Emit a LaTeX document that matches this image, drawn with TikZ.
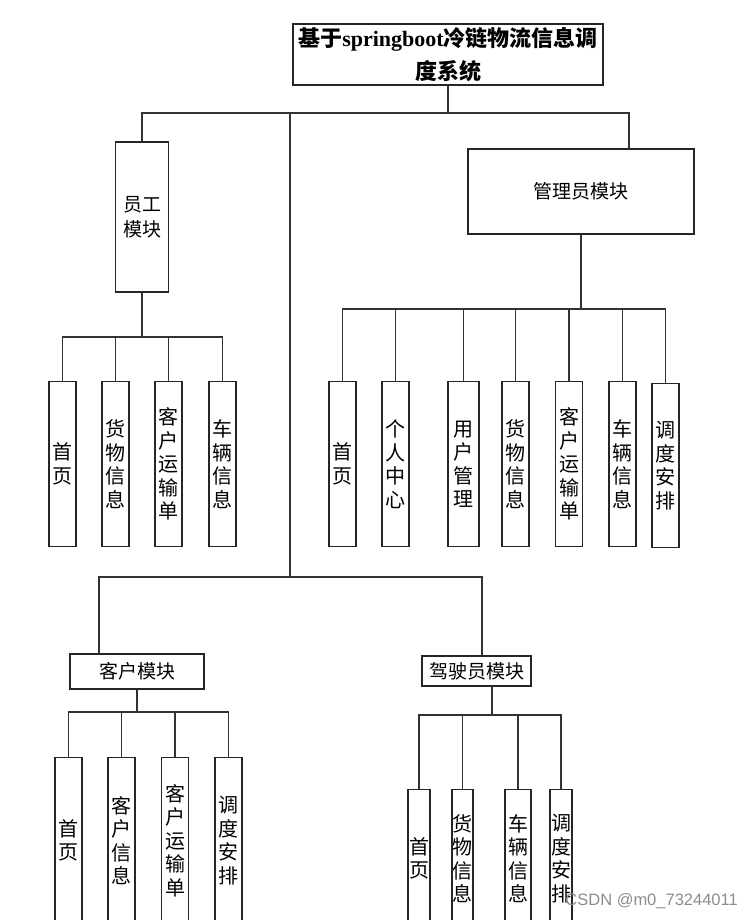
\documentclass[tikz,border=0pt]{standalone}
\usepackage{fontspec}
\setmainfont{Liberation Serif}
\setsansfont{Liberation Sans}
\newfontfamily\cjk{Noto Sans CJK SC}
\tikzset{
  box/.style={draw=black!85, line width=1.2pt, inner sep=0pt, align=center,
    font=\cjk\fontsize{19}{25}\selectfont},
  leaf/.style={box, anchor=north, minimum width=27, minimum height=165,
    font=\cjk\fontsize{20}{23.5}\selectfont},
  wire/.style={draw=black!80, line width=1.3pt},
}
\begin{document}
\begin{tikzpicture}[x=1pt,y=-1pt]
  \useasboundingbox (0,0) rectangle (753,920);
  \clip (0,0) rectangle (753,920);
  % system and modules
  \node[box, minimum width=310, minimum height=61,
    font=\fontsize{22}{33}\selectfont\bfseries] (sys) at (448,54.5)
    {{\cjk 基于}springboot{\cjk 冷链物流信息调}\\{\cjk 度系统}};
  \node[box, minimum width=53, minimum height=150] (emp) at (142,217) {员工\\模块};
  \node[box, minimum width=226, minimum height=85] (mgr) at (581,191.5) {管理员模块};
  \node[box, minimum width=134, minimum height=35] (cus) at (137,671.5) {客户模块};
  \node[box, minimum width=109, minimum height=30] (drv) at (476.5,671) {驾驶员模块};

  \coordinate (top) at (448,113);
  \coordinate (trunk) at (290,113);
  \coordinate (hub) at (290,577);
  \coordinate (ebus) at (142,337);
  \coordinate (mbus) at (581,309);
  \coordinate (cbus) at (137,712);
  \coordinate (dbus) at (492,715);

  \draw[wire] (sys.south) -- (top);
  \draw[wire] (emp.north) |- (top) -| ([xshift=48]mgr.north);
  \draw[wire] (trunk) -- (hub);
  \draw[wire] ([xshift=-38]cus.north) |- (hub) -| ([xshift=5.5]drv.north);
  \draw[wire] (emp.south) -- (ebus);
  \draw[wire] (mgr.south) -- (mbus);
  \draw[wire] (cus.south) -- (cbus);
  \draw[wire] ([xshift=15.5]drv.south) -- (dbus);

  % employee pages
  \node[leaf] (e1) at (62.5,381) {首\\页};
  \node[leaf] (e2) at (115.5,381) {货\\物\\信\\息};
  \node[leaf] (e3) at (168.5,381) {客\\户\\运\\输\\单};
  \node[leaf] (e4) at (222.5,381) {车\\辆\\信\\息};
  \draw[wire] (e1.north) |- (ebus);
  \draw[wire] (e2.north) |- (ebus);
  \draw[wire] (e3.north) |- (ebus);
  \draw[wire] (e4.north) |- (ebus);

  % manager pages
  \node[leaf] (m1) at (342.5,381) {首\\页};
  \node[leaf] (m2) at (395.5,381) {个\\人\\中\\心};
  \node[leaf, minimum width=31] (m3) at (463.5,381) {用\\户\\管\\理};
  \node[leaf] (m4) at (515.5,381) {货\\物\\信\\息};
  \node[leaf] (m5) at (569,381) {客\\户\\运\\输\\单};
  \node[leaf] (m6) at (622.5,381) {车\\辆\\信\\息};
  \node[leaf, minimum height=164] (m7) at (665.5,383) {调\\度\\安\\排};
  \draw[wire] (m1.north) |- (mbus);
  \draw[wire] (m2.north) |- (mbus);
  \draw[wire] (m3.north) |- (mbus);
  \draw[wire] (m4.north) |- (mbus);
  \draw[wire] (m5.north) |- (mbus);
  \draw[wire] (m6.north) |- (mbus);
  \draw[wire] (m7.north) |- (mbus);

  % customer pages
  \node[leaf, minimum height=166] (c1) at (68.5,757) {首\\页};
  \node[leaf, minimum height=166] (c2) at (121.5,757) {客\\户\\信\\息};
  \node[leaf, minimum height=166] (c3) at (175,757) {客\\户\\运\\输\\单};
  \node[leaf, minimum height=166] (c4) at (228.5,757) {调\\度\\安\\排};
  \draw[wire] (c1.north) |- (cbus);
  \draw[wire] (c2.north) |- (cbus);
  \draw[wire] (c3.north) |- (cbus);
  \draw[wire] (c4.north) |- (cbus);

  % driver pages
  \node[leaf, minimum width=22, minimum height=138] (d1) at (419,789) {首\\页};
  \node[leaf, minimum width=21, minimum height=138] (d2) at (462.5,789) {货\\物\\信\\息};
  \node[leaf, minimum width=26, minimum height=138] (d3) at (518,789) {车\\辆\\信\\息};
  \node[leaf, minimum width=22, minimum height=138] (d4) at (561,789) {调\\度\\安\\排};
  \draw[wire] (d1.north) |- (dbus);
  \draw[wire] (d2.north) |- (dbus);
  \draw[wire] (d3.north) |- (dbus);
  \draw[wire] (d4.north) |- (dbus);

  \node[anchor=east, inner sep=0pt, text=black!45,
    font=\sffamily\fontsize{16.5}{16.5}\selectfont] (mark) at (738,901) {CSDN @m0\_73244011};
\end{tikzpicture}
\end{document}
